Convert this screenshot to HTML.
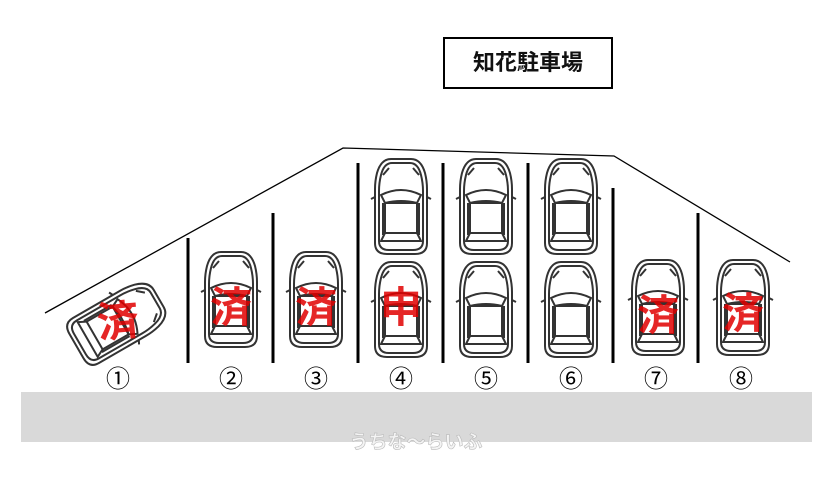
<!DOCTYPE html>
<html><head><meta charset="utf-8"><style>
html,body{margin:0;padding:0;background:#fff;}
svg{display:block;}
text{font-family:"Liberation Sans","Noto Sans CJK JP",sans-serif;}
</style></head><body>
<svg width="834" height="478" viewBox="0 0 834 478" xmlns="http://www.w3.org/2000/svg">
<defs>
<g id="car" fill="none" stroke="#333" stroke-width="2">
  <path d="M16,0 H36 Q46,0 50,14 Q52,22 52,30 V84 Q52,95 40,95 H12 Q0,95 0,84 V30 Q0,22 2,14 Q6,0 16,0 Z"/>
  <path d="M17,4 H35 Q43,4 46,16 Q48,24 48,32 V82 Q48,91 38,91 H14 Q4,91 4,82 V32 Q4,24 6,16 Q9,4 17,4 Z"/>
  <path d="M6,36 Q26,26 46,36 L42,44 Q26,40 10,44 Z"/>
  <rect x="10" y="44" width="32" height="30"/>
  <path d="M10,74 L6,82 H46 L42,74"/>
  <path d="M8,16 L14,9 M44,16 L38,9"/>
  <path d="M0,38 L-4,40 M52,38 L56,40"/>
  <line x1="8" y1="44" x2="8" y2="76"/>
  <line x1="44" y1="44" x2="44" y2="76"/>
</g>
</defs>

<rect x="444" y="38" width="168" height="50" fill="#fff" stroke="#000" stroke-width="2"/>
<text x="528" y="70" font-size="22" font-weight="bold" text-anchor="middle" fill="#111">知花駐車場</text>

<polyline points="45,313 343,148 614,156 790,262" fill="none" stroke="#000" stroke-width="1.3"/>

<g stroke="#000" stroke-width="3">
<line x1="188" y1="238" x2="188" y2="363"/>
<line x1="273" y1="213" x2="273" y2="363"/>
<line x1="358" y1="163" x2="358" y2="363"/>
<line x1="443" y1="163" x2="443" y2="363"/>
<line x1="528" y1="163" x2="528" y2="363"/>
<line x1="613" y1="188" x2="613" y2="363"/>
<line x1="698" y1="213" x2="698" y2="363"/>
</g>

<g transform="translate(118,322) rotate(60) translate(-26,-47)"><use href="#car"/></g>
<use href="#car" x="205" y="252"/>
<use href="#car" x="290" y="252"/>
<use href="#car" x="375" y="159"/>
<use href="#car" x="375" y="262"/>
<use href="#car" x="460" y="159"/>
<use href="#car" x="460" y="262"/>
<use href="#car" x="545" y="159"/>
<use href="#car" x="545" y="262"/>
<use href="#car" x="632" y="260"/>
<use href="#car" x="717" y="260"/>

<g fill="#e00000" fill-opacity="0.85" font-size="42" font-weight="bold" text-anchor="middle">
<text x="118" y="336" transform="rotate(-5 118 322)">済</text>
<text x="231" y="322">済</text>
<text x="316" y="322">済</text>
<text x="401" y="322">申</text>
<text x="658" y="330">済</text>
<text x="743" y="328">済</text>
</g>

<g font-size="24" text-anchor="middle" fill="#000">
<text x="118" y="387">①</text>
<text x="231" y="387">②</text>
<text x="316" y="387">③</text>
<text x="401" y="387">④</text>
<text x="486" y="387">⑤</text>
<text x="571" y="387">⑥</text>
<text x="656" y="387">⑦</text>
<text x="741" y="387">⑧</text>
</g>

<rect x="21" y="392" width="791" height="50" fill="#d9d9d9"/>
<text x="416" y="448" font-size="19" font-weight="bold" text-anchor="middle" fill="#f4f4f4" stroke="#bbb" stroke-width="0.6">うちな～らいふ</text>
</svg>
</body></html>
